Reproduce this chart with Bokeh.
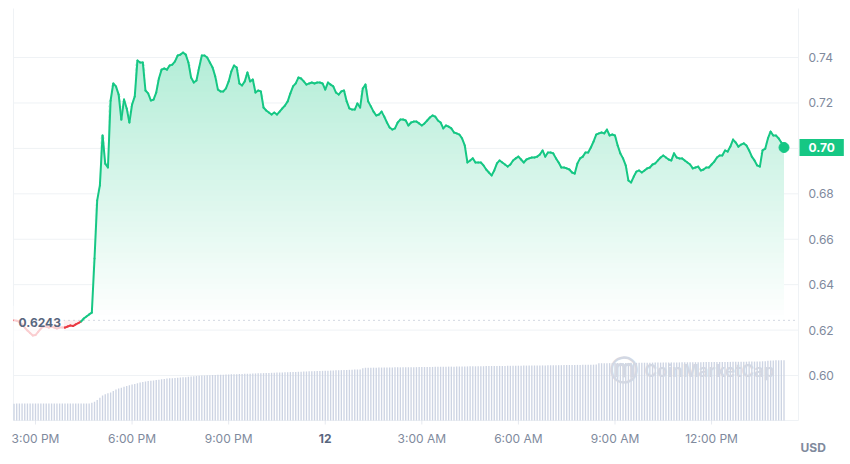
import numpy as np
from bokeh.plotting import figure
from bokeh.models import Range1d, Label
from bokeh.core.properties import value
from bokeh.embed import file_html
from bokeh.resources import INLINE

# ---------------- data ----------------
start_offset_min = -40      # first sample at 2:20 PM (minutes relative to 3:00 PM)
step_min = 5                # one sample every 5 minutes
ref_price = 0.6243

price = [
    0.6243, 0.6241, 0.6236, 0.6225, 0.6211, 0.6198, 0.6187, 0.6176, 0.6178, 0.6192, 0.6207, 0.6216,
    0.6216, 0.6211, 0.6216, 0.6211, 0.6207, 0.6211, 0.6211, 0.6211, 0.6216, 0.6220, 0.6218, 0.6225,
    0.6231, 0.6238, 0.6251, 0.6260, 0.6269, 0.6277, 0.6515, 0.6771, 0.6837, 0.7057, 0.6933, 0.6916,
    0.7211, 0.7286, 0.7273, 0.7237, 0.7127, 0.7215, 0.7176, 0.7114, 0.7193, 0.7229, 0.7387, 0.7378,
    0.7378, 0.7255, 0.7242, 0.7211, 0.7215, 0.7246, 0.7308, 0.7347, 0.7352, 0.7347, 0.7365, 0.7369,
    0.7383, 0.7409, 0.7413, 0.7422, 0.7413, 0.7378, 0.7312, 0.7290, 0.7299, 0.7356, 0.7409, 0.7409,
    0.7400, 0.7378, 0.7356, 0.7317, 0.7259, 0.7251, 0.7251, 0.7264, 0.7295, 0.7339, 0.7365, 0.7356,
    0.7286, 0.7277, 0.7295, 0.7334, 0.7295, 0.7303, 0.7246, 0.7255, 0.7251, 0.7180, 0.7167, 0.7158,
    0.7149, 0.7158, 0.7149, 0.7162, 0.7176, 0.7189, 0.7207, 0.7242, 0.7273, 0.7286, 0.7312, 0.7308,
    0.7295, 0.7281, 0.7286, 0.7290, 0.7286, 0.7290, 0.7290, 0.7286, 0.7259, 0.7290, 0.7281, 0.7273,
    0.7246, 0.7237, 0.7251, 0.7255, 0.7207, 0.7176, 0.7171, 0.7171, 0.7198, 0.7180, 0.7264, 0.7281,
    0.7207, 0.7185, 0.7162, 0.7145, 0.7149, 0.7162, 0.7140, 0.7114, 0.7092, 0.7083, 0.7088, 0.7114,
    0.7127, 0.7127, 0.7123, 0.7101, 0.7114, 0.7118, 0.7118, 0.7110, 0.7101, 0.7110, 0.7123, 0.7136,
    0.7145, 0.7140, 0.7123, 0.7114, 0.7088, 0.7101, 0.7096, 0.7088, 0.7070, 0.7066, 0.7061, 0.7044,
    0.7013, 0.6938, 0.6947, 0.6956, 0.6938, 0.6938, 0.6938, 0.6925, 0.6907, 0.6894, 0.6881, 0.6903,
    0.6934, 0.6947, 0.6938, 0.6929, 0.6920, 0.6929, 0.6947, 0.6956, 0.6964, 0.6951, 0.6938, 0.6951,
    0.6956, 0.6960, 0.6960, 0.6964, 0.6973, 0.6991, 0.6964, 0.6982, 0.6982, 0.6978, 0.6956, 0.6938,
    0.6916, 0.6916, 0.6912, 0.6907, 0.6894, 0.6889, 0.6934, 0.6956, 0.6964, 0.6982, 0.6982, 0.7004,
    0.7030, 0.7061, 0.7066, 0.7070, 0.7066, 0.7083, 0.7057, 0.7061, 0.7057, 0.7013, 0.6978, 0.6956,
    0.6925, 0.6859, 0.6850, 0.6876, 0.6898, 0.6903, 0.6894, 0.6903, 0.6912, 0.6916, 0.6929, 0.6934,
    0.6947, 0.6960, 0.6969, 0.6960, 0.6951, 0.6947, 0.6978, 0.6960, 0.6956, 0.6956, 0.6947, 0.6938,
    0.6929, 0.6912, 0.6916, 0.6920, 0.6903, 0.6907, 0.6916, 0.6916, 0.6929, 0.6942, 0.6960, 0.6969,
    0.6969, 0.6991, 0.6986, 0.7008, 0.7039, 0.7026, 0.7008, 0.7017, 0.7022, 0.7013, 0.6991, 0.6964,
    0.6947, 0.6925, 0.6920, 0.6991, 0.6999, 0.7044, 0.7074, 0.7057, 0.7057, 0.7044, 0.7026, 0.7004,
]

volume = [  # millions, one bar per 5 minutes
    1.63, 1.64, 1.65, 1.65, 1.65, 1.65, 1.65, 1.65, 1.65, 1.65, 1.65, 1.65,
    1.65, 1.65, 1.65, 1.65, 1.65, 1.65, 1.65, 1.65, 1.65, 1.65, 1.65, 1.65,
    1.65, 1.65, 1.65, 1.65, 1.66, 1.72, 1.82, 2.00, 2.20, 2.42, 2.56, 2.64,
    2.72, 2.86, 3.00, 3.10, 3.19, 3.27, 3.35, 3.42, 3.49, 3.55, 3.62, 3.68,
    3.74, 3.79, 3.83, 3.86, 3.89, 3.93, 3.96, 4.00, 4.04, 4.07, 4.09, 4.11,
    4.13, 4.15, 4.17, 4.19, 4.21, 4.24, 4.26, 4.29, 4.31, 4.34, 4.36, 4.38,
    4.39, 4.40, 4.41, 4.42, 4.43, 4.44, 4.45, 4.46, 4.47, 4.48, 4.49, 4.50,
    4.51, 4.52, 4.53, 4.54, 4.55, 4.56, 4.57, 4.58, 4.59, 4.60, 4.61, 4.62,
    4.63, 4.64, 4.65, 4.66, 4.67, 4.68, 4.69, 4.70, 4.71, 4.72, 4.73, 4.74,
    4.75, 4.76, 4.77, 4.78, 4.79, 4.80, 4.81, 4.82, 4.83, 4.84, 4.85, 4.86,
    4.87, 4.88, 4.89, 4.90, 4.91, 4.92, 4.93, 4.94, 4.95, 4.96, 5.08, 5.12,
    5.12, 5.13, 5.13, 5.13, 5.14, 5.14, 5.14, 5.15, 5.15, 5.15, 5.16, 5.16,
    5.16, 5.17, 5.17, 5.17, 5.18, 5.18, 5.18, 5.19, 5.19, 5.19, 5.20, 5.20,
    5.20, 5.21, 5.21, 5.22, 5.22, 5.22, 5.23, 5.23, 5.23, 5.24, 5.24, 5.24,
    5.25, 5.25, 5.26, 5.26, 5.26, 5.27, 5.27, 5.27, 5.28, 5.28, 5.29, 5.29,
    5.29, 5.30, 5.30, 5.30, 5.31, 5.31, 5.31, 5.32, 5.32, 5.32, 5.33, 5.33,
    5.33, 5.34, 5.34, 5.34, 5.35, 5.35, 5.35, 5.36, 5.36, 5.36, 5.37, 5.37,
    5.37, 5.38, 5.38, 5.39, 5.39, 5.39, 5.40, 5.40, 5.41, 5.41, 5.42, 5.42,
    5.42, 5.43, 5.55, 5.56, 5.56, 5.57, 5.57, 5.58, 5.58, 5.58, 5.59, 5.59,
    5.59, 5.59, 5.60, 5.60, 5.60, 5.60, 5.61, 5.61, 5.61, 5.61, 5.62, 5.62,
    5.62, 5.62, 5.63, 5.63, 5.63, 5.64, 5.64, 5.64, 5.64, 5.65, 5.65, 5.65,
    5.65, 5.65, 5.66, 5.66, 5.66, 5.67, 5.67, 5.67, 5.67, 5.68, 5.68, 5.68,
    5.68, 5.69, 5.69, 5.69, 5.70, 5.70, 5.70, 5.71, 5.71, 5.71, 5.72, 5.72,
    5.72, 5.73, 5.74, 5.75, 5.76, 5.80, 5.82, 5.83, 5.84, 5.84, 5.85, 5.85,
]

x_tick_hours = [0, 3, 6, 9, 12, 15, 18, 21]
x_tick_labels = ["3:00 PM", "6:00 PM", "9:00 PM", "12", "3:00 AM", "6:00 AM", "9:00 AM", "12:00 PM"]
x_tick_bold = [False, False, False, True, False, False, False, False]
y_ticks = [0.60, 0.62, 0.64, 0.66, 0.68, 0.70, 0.72, 0.74]
y_tick_labels = ["0.60", "0.62", "0.64", "0.66", "0.68", "0.70", "0.72", "0.74"]
currency = "USD"

# ---------------- layout / styling ----------------
GREEN = "#16c784"
RED = "#ea3943"
GRID = "#eff2f5"
LABEL = "#808a9d"
DARK = "#58667e"
FONT = "Inter"

W, H = 850, 464
PL, PR, PT, PB = 13, 798, 8, 420          # plotting area in pixels
PX0, PX1 = -0.683, 23.70                   # hours shown in the plotting area
PY0, PY1 = 0.5802, 0.7616                  # prices shown in the plotting area
hx = (PX1 - PX0) / (PR - PL)
hy = (PY1 - PY0) / (PB - PT)
VOL_PX = 10.3                              # pixels per million of volume

t = (start_offset_min + step_min * np.arange(len(price))) / 60.0
pr = np.array(price)
vol = np.array(volume)

p = figure(width=W, height=H, output_backend="svg", toolbar_location=None,
           x_range=Range1d(PX0 - PL * hx, PX1 + (W - PR) * hx),
           y_range=Range1d(PY0 - (H - PB) * hy, PY1 + PT * hy),
           x_axis_location=None, y_axis_location=None, min_border=0)
p.outline_line_color = None
p.grid.visible = False
p.background_fill_color = "white"
p.border_fill_color = "white"
p.extra_y_ranges = {"vol": Range1d(-(H - PB) / VOL_PX, PB / VOL_PX)}

# horizontal grid
p.segment(x0=PX0, x1=PX1, y0=y_ticks, y1=y_ticks, line_color=GRID, line_width=1)
# frame lines: left, right, bottom
p.segment(x0=[PX0, PX1, PX0], x1=[PX0, PX1, PX1], y0=[PY0, PY0, PY0], y1=[PY1, PY1, PY0],
          line_color=GRID, line_width=1)
# x ticks
p.segment(x0=x_tick_hours, x1=x_tick_hours, y0=PY0, y1=PY0 - 4 * hy, line_color="#e6e9ef", line_width=1)

# tick labels
norm_x = [h for h, b in zip(x_tick_hours, x_tick_bold) if not b]
norm_l = [l for l, b in zip(x_tick_labels, x_tick_bold) if not b]
bold_x = [h for h, b in zip(x_tick_hours, x_tick_bold) if b]
bold_l = [l for l, b in zip(x_tick_labels, x_tick_bold) if b]
p.text(x=norm_x, y=PY0 - 18 * hy, text=norm_l, text_align="center", text_baseline="middle",
       text_font=value(FONT), text_font_size="12px", text_color=LABEL)
p.text(x=bold_x, y=PY0 - 18 * hy, text=bold_l, text_align="center", text_baseline="middle",
       text_font=value(FONT), text_font_size="12px", text_font_style="bold", text_color=DARK)
p.text(x=PX1 + 10 * hx, y=y_ticks, text=y_tick_labels, text_align="left", text_baseline="middle",
       text_font=value(FONT), text_font_size="12px", text_color=LABEL)

# volume bars
p.vbar(x=t, top=vol, bottom=0, width=0.5 * step_min / 60.0, y_range_name="vol",
       fill_color="#cdd4e3", line_color=None)

# watermark
p.add_layout(Label(x=609, x_units="screen", y=PY0 + 50 * hy, text="\u24dc", text_font="DejaVu Sans",
                   text_font_size="28px", text_font_style="bold", text_color="#d3d8e3",
                   text_baseline="middle", text_align="left"))
p.add_layout(Label(x=644, x_units="screen", y=PY0 + 50 * hy, text="CoinMarketCap", text_font=FONT,
                   text_font_size="17px", text_font_style="bold", text_color="#d3d8e3",
                   text_baseline="middle", text_align="left"))

# gradient fill above the reference price (opaque layers, stronger towards the top)
N = 60
levels = np.linspace(ref_price, PY1, N + 1)[:-1]
g = np.array([22, 199, 132])
for j, L in enumerate(levels):
    k = 0.38 * (j + 0.5) / N
    c = tuple(int(round(255 - k * (255 - ch))) for ch in g)
    p.varea(x=t, y1=L, y2=np.maximum(pr, L), fill_color="#%02x%02x%02x" % c, fill_alpha=1.0)

# faint red fill below the reference price
p.varea(x=t, y1=np.minimum(pr, ref_price), y2=ref_price, fill_color=RED, fill_alpha=0.08)

# reference dotted line
p.segment(x0=PX0, x1=PX1, y0=ref_price, y1=ref_price, line_color="#a7b1c2",
          line_dash="1 4", line_width=1)

# price line coloured by side of the reference
mid = (pr[:-1] + pr[1:]) / 2
cols = [GREEN if m >= ref_price else RED for m in mid]
p.segment(x0=t[:-1], y0=pr[:-1], x1=t[1:], y1=pr[1:], line_color=cols,
          line_width=2, line_cap="round")

# last point
p.scatter(x=[t[-1]], y=[pr[-1]], size=10, fill_color=GREEN, line_color=GREEN)

# reference price label
p.add_layout(Label(x=13, x_units="screen", y=ref_price, y_offset=-3, text=f"{ref_price:.4f}",
                   text_font=FONT, text_font_size="12px", text_font_style="bold",
                   text_color=DARK, text_baseline="middle", text_align="left",
                   background_fill_color="white", background_fill_alpha=0.75,
                   padding=dict(left=5, right=3, top=12, bottom=14)))

# last price tag
p.add_layout(Label(x=799, x_units="screen", y=pr[-1], text=f"{pr[-1]:.2f}",
                   text_font=FONT, text_font_size="12px", text_font_style="bold",
                   text_color="white", text_baseline="middle", text_align="left",
                   background_fill_color=GREEN,
                   padding=dict(left=9, right=9, top=4, bottom=4)))

# currency
p.add_layout(Label(x=800, x_units="screen", y=PY0, y_offset=-27, text=currency,
                   text_font=FONT, text_font_size="12px", text_font_style="bold",
                   text_color=LABEL, text_baseline="middle", text_align="left"))

open("out.html", "w").write(file_html(p, INLINE))
